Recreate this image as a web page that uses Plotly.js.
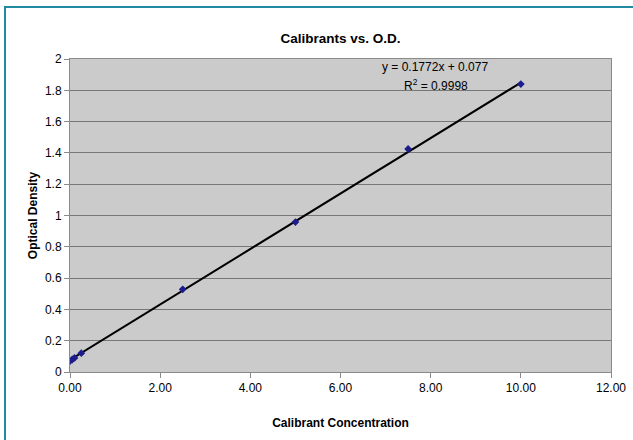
<!DOCTYPE html>
<html><head><meta charset="utf-8">
<script src="https://cdn.plot.ly/plotly-3.0.1.min.js"></script>
<style>html,body{margin:0;padding:0;background:#fff}#wrap{position:relative;width:633px;height:440px}#frame{position:absolute;left:4px;top:6px;width:700px;height:500px;border-left:2px solid #1f8aa0;border-top:2px solid #1f8aa0;pointer-events:none}</style>
</head><body>
<div id="wrap"><div id="chart" style="width:633px;height:440px"></div><div id="frame"></div></div>
<script>
const concentration = [0, 0.05, 0.1, 0.25, 2.5, 5, 7.5, 10];
const opticalDensity = [0.07, 0.08, 0.09, 0.12, 0.528, 0.958, 1.425, 1.84];
const slope = 0.1772, intercept = 0.077;
const trendX = [0, 10];
const xTickVals = [0, 2, 4, 6, 8, 10, 12];
const yTickVals = [0, 0.2, 0.4, 0.6, 0.8, 1, 1.2, 1.4, 1.6, 1.8, 2];

const font = 'Liberation Sans, Arial, sans-serif';
const traces = [
  {x: trendX, y: trendX.map(v => slope * v + intercept), mode: 'lines', line: {color: '#000', width: 2}, hoverinfo: 'skip'},
  {x: concentration, y: opticalDensity, mode: 'markers', marker: {symbol: 'diamond', size: 6, color: '#1c1c8c'}}
];
const layout = {
  width: 633, height: 440, showlegend: false,
  margin: {l: 70, r: 21.5, t: 59, b: 67.5},
  paper_bgcolor: '#fff', plot_bgcolor: '#cbcbcb',
  font: {family: font, size: 12, color: '#000'},
  title: {text: '<b>Calibrants vs. O.D.</b>', font: {family: font, size: 13.5, color: '#000'}, x: 0.538, xanchor: 'center', y: 0.913, yanchor: 'middle'},
  xaxis: {range: [0, 12], tickvals: xTickVals, tickformat: '.2f', showgrid: false, zeroline: false,
    showline: true, linecolor: '#8a8a8a', linewidth: 1, mirror: true, ticks: 'outside', ticklen: 5, tickcolor: '#8a8a8a',
    tickfont: {size: 12}, title: {text: '<b>Calibrant Concentration</b>', font: {size: 12}, standoff: 24}},
  yaxis: {range: [0, 2], tickvals: yTickVals, showgrid: true, gridcolor: '#777', gridwidth: 1, zeroline: false,
    showline: true, linecolor: '#8a8a8a', linewidth: 1, mirror: true, ticks: 'outside', ticklen: 5, tickcolor: '#8a8a8a',
    tickfont: {size: 12}, title: {text: '<b>Optical Density</b>', font: {size: 12}, standoff: 4}},
  annotations: [
    {xref: 'paper', yref: 'paper', x: 0.674, y: 0.973, text: 'y = 0.1772x + 0.077', showarrow: false, font: {size: 12}, xanchor: 'center', yanchor: 'middle'},
    {xref: 'paper', yref: 'paper', x: 0.676, y: 0.918, text: 'R<sup>2</sup> = 0.9998', showarrow: false, font: {size: 12}, xanchor: 'center', yanchor: 'middle'}
  ]
};
Plotly.newPlot('chart', traces, layout, {displayModeBar: false, staticPlot: true});
</script>
</body></html>
